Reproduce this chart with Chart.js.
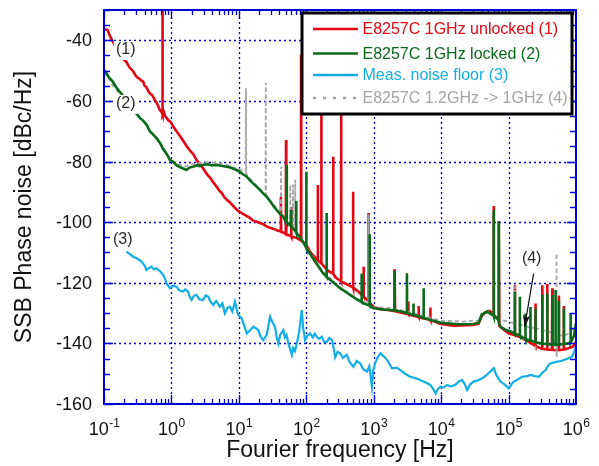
<!DOCTYPE html>
<html><head><meta charset="utf-8">
<script src="https://cdn.jsdelivr.net/npm/chart.js@4.4.0/dist/chart.umd.min.js"></script>
<style>html,body{margin:0;padding:0;background:#fff;} canvas{display:block;}</style>
</head><body>
<canvas id="c" width="599" height="466"></canvas>
<script>
// ---- tick labels ----
const xTickValues = [0.1, 1, 10, 100, 1000, 10000, 100000, 1000000];
const xTickExponents = ['-1', '0', '1', '2', '3', '4', '5', '6'];
const yTickValues = [-160, -140, -120, -100, -80, -60, -40];
const yTickLabels = ['-160', '-140', '-120', '-100', '-80', '-60', '-40'];

// ---- series names ----
const seriesNames = ['E8257C 1GHz unlocked (1)', 'E8257C 1GHz locked (2)', 'Meas. noise floor (3)', 'E8257C 1.2GHz -> 1GHz (4)'];

// ---- series values [frequency Hz, dBc/Hz] ----
const unlocked = [
[0.1,-36.3],[0.113,-36.6],[0.122,-38.5],[0.135,-40.4],[0.158,-43.5],[0.19,-46],[0.215,-47.2],[0.24,-49],[0.27,-50.2],[0.302,-52],[0.33,-52.6],[0.36,-53.3],[0.38,-53.6],[0.4,-55],[0.427,-55.5],[0.455,-56.8],[0.479,-57.5],[0.525,-58.2],[0.566,-59.7],[0.6,-60.5],[0.631,-61.5],[0.673,-63],[0.708,-63.5],[0.732,-64.2],[0.736,-20],[0.742,-64.5],[0.77,-63.6],[0.81,-65],[0.85,-65.6],[0.893,-66.3],[0.977,-67],[1.07,-68.5],[1.19,-70],[1.33,-71.5],[1.5,-73.2],[1.67,-74.8],[1.9,-76.5],[2.1,-77.5],[2.36,-79.5],[2.65,-81],[2.95,-82.2],[3.32,-84],[3.7,-85.2],[4.17,-86.8],[4.68,-88.3],[5.1,-89.5],[5.62,-90.5],[6.1,-91.8],[6.58,-92.5],[7.38,-93.5],[8.51,-95],[9.77,-96.3],[11,-97],[12,-97.5],[14.6,-98.6],[16.2,-99.5],[18,-99.8],[20,-100.2],[22.9,-100.6],[25,-101.2],[28.2,-101.8],[33.9,-102.3],[38,-102.8],[41.6,-103],[42,-91.6],[42.4,-103.2],[46,-103.5],[49.7,-104],[50.1,-72.9],[50.5,-104],[55,-104.3],[59.4,-104.6],[59.8,-95],[60.2,-104.8],[66,-105],[72.4,-105.2],[76,-105.5],[83.4,-106],[83.8,-44.8],[84.2,-106.2],[89,-106.5],[95,-107],[100,-107.5],[112,-109.5],[126,-111],[147,-112.5],[148,-87.7],[149,-112.6],[160,-113.2],[166,-113.5],[167,-35],[168,-113.6],[190,-115],[209,-116],[250,-117],[251,-78.4],[252,-117.1],[282,-118.5],[328,-119.5],[329,-50],[330,-119.6],[398,-120.5],[494,-121.5],[495,-90],[496,-121.6],[562,-122.5],[705,-124.5],[708,-114.7],[711,-124.6],[760,-125.2],[836,-126],[838,-97],[840,-126.2],[1000,-128],[1300,-128.8],[1600,-129],[2000,-129.3],[2037,-115.5],[2075,-129.4],[2500,-129.8],[3000,-130.2],[3240,-130.3],[3260,-126.2],[3280,-130.4],[4000,-131],[4620,-131.3],[4640,-127.7],[4660,-131.4],[5500,-131.8],[6900,-132.2],[6920,-128.2],[6950,-132.3],[8500,-133],[10000,-133.6],[15000,-134.2],[20000,-134.1],[30000,-133.9],[36000,-133.5],[40000,-131],[45000,-129.8],[52000,-129.3],[57000,-130],[60000,-130.5],[60256,-94.7],[60500,-130.8],[65000,-131.3],[70000,-132],[71600,-99.6],[73000,-134.2],[80000,-135],[100000,-136.7],[123500,-137.3],[124000,-120.7],[124500,-137.3],[150000,-138],[168000,-138.5],[200000,-139.5],[250000,-140.8],[251000,-126.8],[252000,-140.9],[300000,-141.6],[316000,-141.8],[316500,-120.8],[317000,-141.8],[374000,-142],[375000,-120.4],[376000,-142],[440000,-142.1],[445000,-121.8],[450000,-142.1],[556000,-142.2],[557000,-124.2],[558000,-142.2],[660000,-142],[661000,-127.7],[662000,-142],[800000,-141.5],[900000,-141],[1000000,-139.5]
];
const locked = [
[0.1,-49.8],[0.108,-50.8],[0.118,-52.2],[0.135,-53.6],[0.15,-55.3],[0.165,-56.6],[0.185,-57.8],[0.21,-59.5],[0.24,-61.5],[0.27,-63],[0.302,-64.1],[0.34,-65.6],[0.38,-66.5],[0.427,-67.8],[0.479,-70],[0.54,-71.2],[0.6,-72.3],[0.673,-73.8],[0.75,-75.8],[0.85,-77.5],[0.95,-79.5],[1.05,-80],[1.2,-81.3],[1.35,-81.9],[1.5,-82.3],[1.67,-82.8],[1.85,-82],[2.1,-81.7],[2.4,-81.2],[2.6,-81.5],[2.95,-81.1],[3.5,-80.9],[4.0,-81.3],[4.68,-81.1],[5.5,-81.4],[6.58,-81.7],[7.5,-82],[8.5,-82.5],[9.27,-82.8],[10.5,-83.5],[11.5,-84.2],[13.1,-85],[14.6,-86.2],[16.2,-87.2],[18.4,-88.3],[21,-89.6],[23,-90.6],[25.9,-91.6],[30,-93.5],[33,-94.8],[36.3,-96],[41,-97.3],[45.7,-98.2],[49,-99.6],[51,-99.8],[51.3,-81.1],[51.6,-100],[56,-100.8],[59,-101.3],[59.4,-96],[59.8,-101.5],[66,-102.5],[70.5,-103.2],[70.8,-93],[71.1,-103.4],[80,-104.8],[90,-106.6],[99.5,-108.4],[100,-83.4],[100.5,-108.6],[126,-112],[150,-114.5],[178,-116.9],[199,-118],[200,-97],[201,-118.1],[251,-119.8],[316,-121.8],[398,-123.2],[480,-124.5],[562,-125.5],[655,-126.3],[660,-117],[665,-126.4],[708,-126.8],[865,-127.5],[870,-104],[875,-127.6],[1000,-128.4],[1400,-128.8],[1800,-129],[2030,-129.1],[2037,-116],[2045,-129.1],[2500,-129.4],[3000,-129.9],[3100,-130],[3110,-116.9],[3120,-130],[3880,-130.6],[3890,-126.8],[3900,-130.6],[4500,-131],[5490,-131.6],[5500,-121.8],[5510,-131.6],[7000,-132.3],[10000,-133.2],[17800,-133.7],[30000,-133.6],[36000,-133.2],[40000,-130.5],[47900,-129.5],[57000,-130.6],[60000,-130.8],[60256,-96],[60500,-131],[67600,-131.7],[71400,-132.5],[71600,-99.8],[71800,-133.3],[75900,-134.5],[90000,-135.5],[107000,-136.1],[123500,-136.7],[124000,-123],[124500,-136.8],[146500,-137.3],[147000,-124.6],[147500,-137.4],[168000,-138.3],[177500,-138.5],[178000,-130.1],[178500,-138.6],[210500,-139],[211000,-128],[211500,-139],[250000,-139.6],[251000,-128.5],[252000,-139.6],[300000,-140],[316000,-140.1],[316500,-124],[317000,-140.1],[374000,-140.3],[375000,-123.5],[376000,-140.3],[445000,-140.4],[446000,-124],[447000,-140.4],[497000,-140.5],[498000,-122.4],[499000,-140.5],[556000,-140.4],[557000,-126],[558000,-140.4],[660000,-140.2],[661000,-128.5],[662000,-140.2],[760000,-140],[831000,-139.8],[832000,-130],[833000,-139.7],[933000,-137.5],[1000000,-133.4]
];
const noiseFloor = [
[0.215,-109.7],[0.24,-110.5],[0.27,-111.4],[0.31,-112],[0.36,-113],[0.4,-114.3],[0.427,-115.8],[0.46,-115.2],[0.506,-114.7],[0.55,-115.6],[0.6,-115.2],[0.68,-116.2],[0.753,-117.4],[0.8,-118.6],[0.845,-120.2],[0.946,-121.8],[1.05,-121],[1.19,-121.3],[1.3,-122.5],[1.49,-122.9],[1.6,-122.2],[1.77,-122.9],[1.85,-124.5],[1.99,-125.7],[2.15,-124.3],[2.36,-124],[2.6,-125.5],[2.95,-125.7],[3.2,-124.2],[3.51,-124.6],[3.8,-126.2],[4.17,-127.3],[4.6,-126],[5.24,-127.9],[5.7,-126.8],[6.21,-130.1],[6.8,-128.2],[7.38,-127.9],[8,-129.5],[8.75,-126.2],[9.3,-128.8],[9.77,-130.6],[11,-131.7],[12,-134.2],[13.1,-136.7],[14.5,-135.8],[16.4,-134.5],[17.8,-135],[19.4,-135.6],[21,-137.8],[23,-138.9],[25.9,-137.2],[27.5,-134],[29,-131.2],[31.5,-133],[34.4,-134.5],[36,-137.5],[38.5,-140],[41,-137.2],[45.7,-135.6],[48,-138],[51,-137.2],[54.2,-140],[57,-141.5],[61,-143.8],[64,-141.5],[68,-142.5],[72.3,-140],[78,-136.5],[85.7,-129],[90,-135],[96,-138.9],[104,-137.5],[114,-136.7],[125,-138],[134,-136.8],[143,-137.8],[155,-138.5],[170,-137.8],[185,-139.6],[202,-139.5],[220,-138.2],[240,-138.9],[255,-141.5],[268,-144.6],[290,-142.8],[316,-143.3],[350,-144.8],[398,-143.8],[440,-146.2],[501,-147.7],[560,-145.8],[631,-146.6],[700,-148.5],[794,-149.3],[860,-147.5],[940,-154.3],[980,-149],[1047,-146.6],[1150,-144.5],[1259,-143.3],[1400,-144.2],[1585,-145.5],[1862,-148.2],[2200,-148],[2483,-148.8],[3000,-150.2],[3491,-151],[4200,-151.5],[4898,-152.1],[5800,-152.8],[6918,-153.7],[7600,-155],[8318,-156.5],[9000,-155],[9772,-154.3],[11000,-154.5],[12300,-153.7],[14000,-154.2],[16218,-153.7],[18500,-152.5],[20417,-152.1],[22500,-153.5],[24266,-155.4],[27000,-153.5],[30200,-152.6],[35000,-152.2],[40738,-151.5],[47000,-150.5],[53703,-149.3],[60256,-148.2],[66000,-150.5],[75858,-152.6],[88000,-153.6],[100000,-154.8],[110000,-153.5],[120226,-152.6],[140000,-151.8],[158489,-151],[185000,-150.8],[213796,-150.4],[245000,-150.8],[281838,-151],[320000,-149.6],[354813,-148.8],[390000,-147.2],[416869,-146.6],[470000,-146.3],[524807,-146],[600000,-145.8],[660693,-145.5],[760000,-145],[870964,-144.4],[940000,-142.8],[977237,-141.1],[1000000,-140.3]
];
const converted = [
[0.1,-50.5],[0.11,-51.8],[0.12,-52.8],[0.135,-55],[0.155,-56.5],[0.175,-57.8],[0.19,-58.5],[0.22,-60.8],[0.26,-62.8],[0.302,-64.5],[0.36,-66.2],[0.427,-67.8],[0.5,-70.3],[0.6,-72],[0.75,-75.2],[0.85,-77.2],[0.95,-79],[1.2,-80.8],[1.67,-81.6],[2.1,-80.8],[2.95,-80.4],[3.6,-80.2],[4.68,-80.5],[5.5,-80.6],[6.58,-81],[8,-81.8],[9.27,-82.2],[11,-82.8],[12.6,-83.4],[12.74,-55.8],[12.9,-84.2],[14.6,-85.5],[16.2,-86.8],[18.4,-88],[21,-89.3],[24.9,-90.8],[25.1,-54],[25.3,-91],[30,-93.2],[36.3,-95.6],[41.8,-97.2],[42.2,-81.7],[42.6,-97.4],[45.7,-98],[51,-99.5],[57.5,-101],[58,-87.7],[58.5,-101.2],[63,-102],[63.5,-87.7],[64,-102.2],[68,-103],[68.6,-86],[69,-103.2],[80,-104.6],[100,-108.2],[126,-111.6],[178,-116.5],[251,-119.5],[316,-121.5],[398,-123],[562,-125.3],[700,-126.3],[836,-126.8],[838,-97.5],[840,-127],[1000,-128],[1800,-128.4],[3160,-129.5],[5600,-131],[10000,-132.5],[20000,-132.8],[36000,-132.5],[40000,-130],[50000,-129.5],[57000,-130.3],[68000,-131.7],[80000,-132.3],[100000,-132.8],[124000,-133.4],[124500,-121],[125000,-133.4],[158000,-134],[200000,-134.6],[250000,-135],[251000,-142.7],[252000,-135],[316000,-135.6],[400000,-136.2],[468000,-136.7],[514000,-137],[515000,-110.3],[516000,-144.4],[517000,-137],[631000,-137.5],[750000,-137],[832000,-136],[1000000,-134.5]
];

const COLORS = ['#e30613', '#0a6a1c', '#14aee6', '#a4a4a4'];
const FONT = '"Liberation Sans", Arial, Helvetica, sans-serif';
const AX = '#0000d4';
const toXY = arr => arr.map(p => ({ x: p[0], y: p[1] }));

const decor = {
  id: 'decor',
  beforeDatasetsDraw(chart) {
    const { ctx, chartArea: a, scales: { x, y } } = chart;
    ctx.save();
    ctx.strokeStyle = AX; ctx.lineWidth = 1.3; ctx.setLineDash([2, 3]);
    for (const v of xTickValues) {
      const px = Math.round(x.getPixelForValue(v)) + 0.5;
      if (px < a.left + 2 || px > a.right - 2) continue;
      ctx.beginPath(); ctx.moveTo(px, a.bottom); ctx.lineTo(px, a.top); ctx.stroke();
    }
    for (const v of yTickValues) {
      const py = Math.round(y.getPixelForValue(v)) + 0.5;
      if (py > a.bottom - 2 || py < a.top + 2) continue;
      ctx.beginPath(); ctx.moveTo(a.left, py); ctx.lineTo(a.right, py); ctx.stroke();
    }
    ctx.restore();
  },
  afterDatasetsDraw(chart) {
    const { ctx, chartArea: a, scales: { x, y } } = chart;
    ctx.save();
    // annotation labels
    ctx.font = '16px ' + FONT;
    ctx.textAlign = 'center'; ctx.textBaseline = 'middle';
    const notes = [['(1)', 0.21, -43.2, true], ['(2)', 0.21, -61, true], ['(3)', 0.19, -105.8, false], ['(4)', 220000, -112, false]];
    for (const [t, fx, dy, bg] of notes) {
      const px = x.getPixelForValue(fx), py = y.getPixelForValue(dy);
      if (bg) { ctx.fillStyle = '#fff'; ctx.fillRect(px - 12, py - 9, 24, 19); }
      ctx.fillStyle = '#2a2a2a'; ctx.fillText(t, px, py);
    }
    // arrow for (4)
    const ax0 = x.getPixelForValue(235000), ay0 = y.getPixelForValue(-117);
    const ax1 = x.getPixelForValue(173000), ay1 = y.getPixelForValue(-134.6);
    ctx.strokeStyle = '#111'; ctx.fillStyle = '#111'; ctx.lineWidth = 1.2;
    ctx.beginPath(); ctx.moveTo(ax0, ay0); ctx.lineTo(ax1, ay1); ctx.stroke();
    const ang = Math.atan2(ay1 - ay0, ax1 - ax0);
    ctx.beginPath();
    ctx.moveTo(ax1, ay1);
    ctx.lineTo(ax1 - 13 * Math.cos(ang - 0.3), ay1 - 13 * Math.sin(ang - 0.3));
    ctx.lineTo(ax1 - 9 * Math.cos(ang), ay1 - 9 * Math.sin(ang));
    ctx.lineTo(ax1 - 13 * Math.cos(ang + 0.3), ay1 - 13 * Math.sin(ang + 0.3));
    ctx.closePath(); ctx.fill();

    // frame
    ctx.strokeStyle = AX; ctx.lineWidth = 2; ctx.setLineDash([]);
    ctx.strokeRect(a.left, a.top, a.right - a.left, a.bottom - a.top);
    // minor/major ticks x
    ctx.lineWidth = 1.3;
    for (let e = -1; e < 6; e++) {
      for (let m = 1; m <= 9; m++) {
        const v = m * Math.pow(10, e);
        const px = Math.round(x.getPixelForValue(v)) + 0.5;
        const len = m === 1 ? 9 : 5;
        ctx.beginPath();
        ctx.moveTo(px, a.bottom); ctx.lineTo(px, a.bottom - len);
        ctx.moveTo(px, a.top); ctx.lineTo(px, a.top + len);
        ctx.stroke();
      }
    }
    for (let v = -160; v <= -30; v += 5) {
      const py = Math.round(y.getPixelForValue(v)) + 0.5;
      const len = v % 20 === 0 ? 9 : 6;
      ctx.beginPath();
      ctx.moveTo(a.left, py); ctx.lineTo(a.left + len, py);
      ctx.moveTo(a.right, py); ctx.lineTo(a.right - len, py);
      ctx.stroke();
    }
    // y tick labels
    ctx.fillStyle = '#111';
    ctx.font = '18px ' + FONT; ctx.textAlign = 'right'; ctx.textBaseline = 'middle';
    yTickValues.forEach((v, i) => ctx.fillText(yTickLabels[i], a.left - 12, y.getPixelForValue(v) + 1));
    // x tick labels with superscripts
    ctx.textAlign = 'left'; ctx.textBaseline = 'alphabetic';
    xTickValues.forEach((v, i) => {
      ctx.font = '18px ' + FONT; const w1 = ctx.measureText('10').width;
      ctx.font = '12px ' + FONT; const w2 = ctx.measureText(xTickExponents[i]).width;
      const sx = x.getPixelForValue(v) - (w1 + w2) / 2;
      ctx.font = '18px ' + FONT; ctx.fillText('10', sx, 435);
      ctx.font = '12px ' + FONT; ctx.fillText(xTickExponents[i], sx + w1 + 0.5, 427);
    });
    // axis titles
    ctx.font = '23px ' + FONT; ctx.textAlign = 'center'; ctx.textBaseline = 'middle';
    ctx.fillText('Fourier frequency [Hz]', (a.left + a.right) / 2, 451);
    ctx.save(); ctx.translate(25, (a.top + a.bottom) / 2); ctx.rotate(-Math.PI / 2);
    ctx.fillText('SSB Phase noise [dBc/Hz]', 0, 0); ctx.restore();

    // legend
    const L = { x: 302, y: 13, w: 270, h: 101 };
    ctx.fillStyle = '#fff'; ctx.fillRect(L.x, L.y, L.w, L.h);
    ctx.strokeStyle = '#000'; ctx.lineWidth = 3; ctx.strokeRect(L.x, L.y, L.w, L.h);
    const rows = [29, 53.5, 75, 98];
    ctx.font = '16px ' + FONT; ctx.textAlign = 'left'; ctx.textBaseline = 'middle';
    seriesNames.forEach((n, i) => {
      ctx.strokeStyle = COLORS[i]; ctx.lineWidth = 2.5;
      ctx.setLineDash(i === 3 ? [3, 7] : []);
      ctx.beginPath(); ctx.moveTo(313, rows[i]); ctx.lineTo(358, rows[i]); ctx.stroke();
      ctx.setLineDash([]);
      ctx.fillStyle = COLORS[i]; ctx.fillText(n, 362.5, rows[i] + 1);
    });
    ctx.restore();
  }
};

new Chart(document.getElementById('c'), {
  type: 'line',
  data: {
    datasets: [
      { label: seriesNames[1], data: toXY(locked), borderColor: COLORS[1], borderWidth: 2.6, order: 0 },
      { label: seriesNames[3], data: toXY(converted), borderColor: COLORS[3], borderWidth: 1.8, borderDash: [4, 3], order: 1 },
      { label: seriesNames[0], data: toXY(unlocked), borderColor: COLORS[0], borderWidth: 2.6, order: 2 },
      { label: seriesNames[2], data: toXY(noiseFloor), borderColor: COLORS[2], borderWidth: 2.2, order: 3 }
    ]
  },
  options: {
    responsive: false, animation: false, devicePixelRatio: 1,
    elements: { point: { radius: 0 }, line: { tension: 0, fill: false } },
    layout: { padding: { left: 104, right: 23, top: 10, bottom: 62 } },
    plugins: { legend: { display: false }, tooltip: { enabled: false } },
    scales: {
      x: { type: 'logarithmic', min: 0.1, max: 1000000,
           grid: { display: false }, border: { display: false }, ticks: { display: false },
           afterFit: s => { s.height = 0; } },
      y: { type: 'linear', min: -160, max: -30,
           grid: { display: false }, border: { display: false }, ticks: { display: false },
           afterFit: s => { s.width = 0; } }
    }
  },
  plugins: [decor]
});
</script>
</body></html>
